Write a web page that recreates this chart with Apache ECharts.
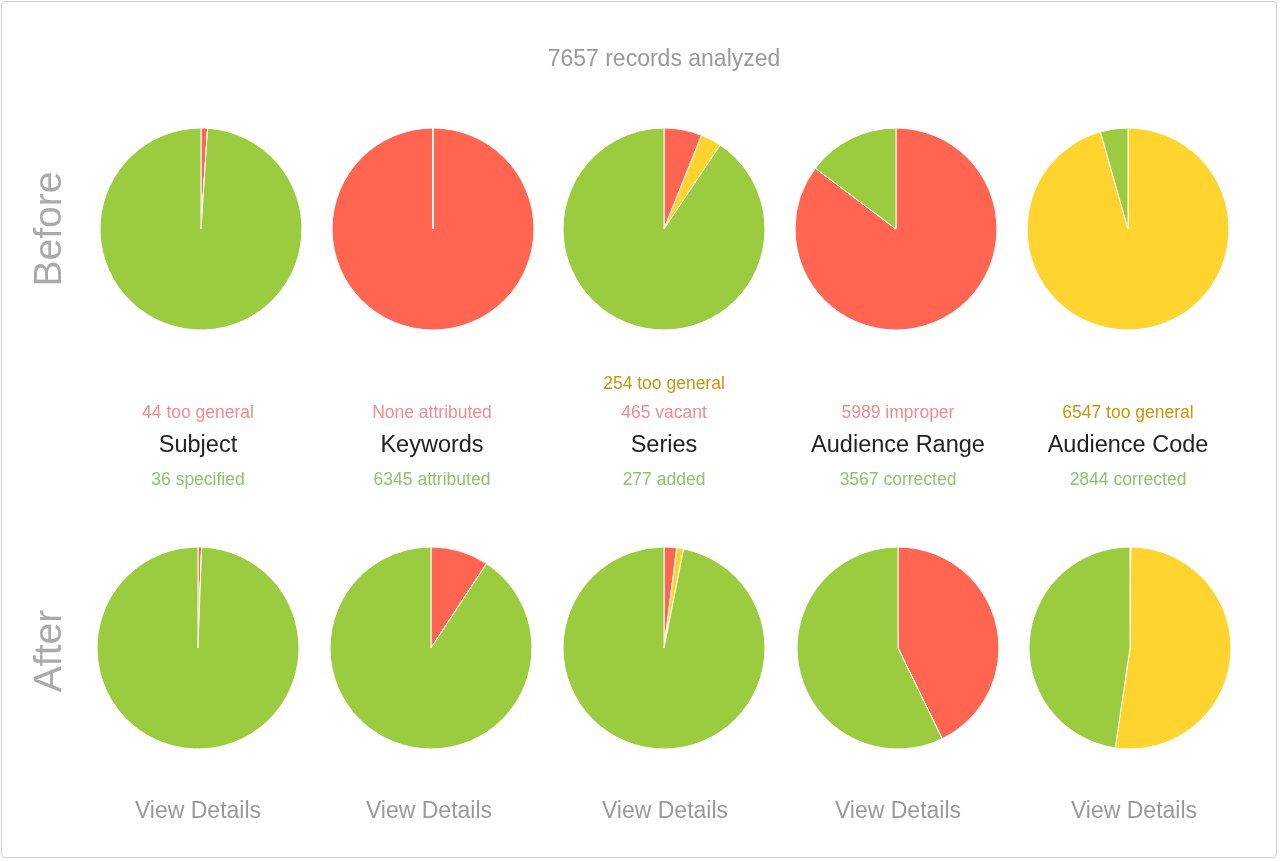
<!DOCTYPE html>
<html>
<head>
<meta charset="utf-8">
<script src="https://cdn.jsdelivr.net/npm/echarts@6/dist/echarts.min.js"></script>
<style>
html,body{margin:0;padding:0;background:#fff;}
#frame{position:absolute;left:1px;top:1px;width:1276px;height:857px;border:1px solid #cfcfcf;border-radius:4px;box-sizing:border-box;}
#chart{position:absolute;left:0;top:0;width:1280px;height:861px;}
</style>
</head>
<body>
<div id="frame"></div>
<div id="chart"></div>
<script>
const title = '7657 records analyzed';
const categories = ['Subject', 'Keywords', 'Series', 'Audience Range', 'Audience Code'];
const rowLabels = ['Before', 'After'];
const sliceNames = ['Problem', 'Warning', 'OK'];
// before: [red, yellow, green]
const beforeRed = [80, 7657, 465, 6530, 0];
const beforeYellow = [0, 0, 254, 0, 7320];
const beforeGreen = [7577, 0, 6938, 1127, 337];
// after: [red, yellow, green]
const afterRed = [44, 710, 155, 3277, 10];
const afterYellow = [0, 0, 83, 0, 3997];
const afterGreen = [7613, 6947, 7419, 4380, 3650];
const redNotes = ['44 too general', 'None attributed', '465 vacant', '5989 improper', ''];
const yellowNotes = ['', '', '254 too general', '', '6547 too general'];
const greenNotes = ['36 specified', '6345 attributed', '277 added', '3567 corrected', '2844 corrected'];
const linkText = 'View Details';

const colors = ['#FF6550', '#FFD42F', '#9BCB3F'];
const font = "'Helvetica Neue', 'Liberation Sans', Arial, sans-serif";
const beforeX = [201, 433, 664, 896, 1128];
const afterX = [198, 431, 664, 898, 1130];
const labelX = [198, 432, 664, 898, 1128];
const linkX = [198, 429, 665, 898, 1134];
const chart = echarts.init(document.getElementById('chart'));

const series = [];
function addPie(cx, cy, r, y, g) {
  series.push({
    type: 'pie',
    center: [cx, cy],
    radius: [0, 101],
    startAngle: 90,
    clockwise: true,
    silent: true,
    animation: false,
    label: {show: false},
    labelLine: {show: false},
    itemStyle: {borderColor: '#fff', borderWidth: 1},
    data: [
      {name: sliceNames[0], value: r, itemStyle: {color: colors[0]}},
      {name: sliceNames[1], value: y, itemStyle: {color: colors[1]}},
      {name: sliceNames[2], value: g, itemStyle: {color: colors[2]}}
    ]
  });
}
categories.forEach((c, i) => {
  addPie(beforeX[i], 229, beforeRed[i], beforeYellow[i], beforeGreen[i]);
  addPie(afterX[i], 648, afterRed[i], afterYellow[i], afterGreen[i]);
});

const graphics = [];
function txt(x, y, s, size, color, extra) {
  graphics.push(Object.assign({
    type: 'text', x: x, y: y, silent: true,
    style: {text: s, fill: color, font: size + 'px ' + font, textAlign: 'center', textVerticalAlign: 'middle'}
  }, extra || {}));
}
txt(664, 60, title, 23, '#9a9a9a');
txt(50, 229, rowLabels[0], 39, '#aaaaaa', {rotation: Math.PI / 2});
txt(50, 651, rowLabels[1], 39, '#aaaaaa', {rotation: Math.PI / 2});
categories.forEach((c, i) => {
  const cx = labelX[i];
  if (yellowNotes[i] && redNotes[i]) {
    txt(cx, 384, yellowNotes[i], 17.5, '#C9950F');
    txt(cx, 413, redNotes[i], 17.5, '#F08C8C');
  } else if (yellowNotes[i]) {
    txt(cx, 413, yellowNotes[i], 17.5, '#C9950F');
  } else {
    txt(cx, 413, redNotes[i], 17.5, '#F08C8C');
  }
  txt(cx, 446, c, 23.5, '#222222');
  txt(cx, 480, greenNotes[i], 17.5, '#8CC46E');
  txt(linkX[i], 812, linkText, 23, '#9a9a9a');
});

chart.setOption({
  animation: false,
  series: series,
  graphic: graphics
});
</script>
</body>
</html>
